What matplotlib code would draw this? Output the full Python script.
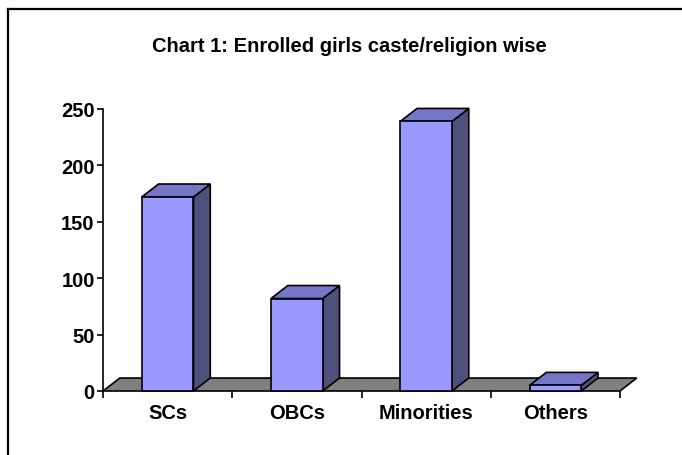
import matplotlib
matplotlib.use("Agg")
import matplotlib.pyplot as plt
from matplotlib.patches import Polygon
from matplotlib.lines import Line2D

categories = ["SCs", "OBCs", "Minorities", "Others"]
values = [172, 82, 239, 5]
y_ticks = [0, 50, 100, 150, 200, 250]
title = "Chart 1: Enrolled girls caste/religion wise"

plt.rcParams['font.family'] = ['Liberation Sans', 'DejaVu Sans']
plt.rcParams['font.weight'] = 'bold'

fig = plt.figure(figsize=(6.82, 4.56), dpi=100)
ax = fig.add_axes([103/682, 64/456, 517/682, 282/456])

FRONT = "#9999FF"
TOP = "#7676C6"
SIDE = "#50507F"
FLOOR = "#808080"
LW = 1.2
FS = 14.5
DX = 0.13     # depth offset in category units
DY = 11.5     # depth offset in value units
BW = 0.40

n = len(categories)
xs = list(range(n))

# floor
floor = Polygon([(-0.5, 0), (n - 0.5, 0), (n - 0.5 + DX, DY), (-0.5 + DX, DY)],
                closed=True, facecolor=FLOOR, edgecolor="black", lw=LW,
                clip_on=False, zorder=1)
ax.add_patch(floor)

bars = ax.bar(xs, values, width=BW, color=FRONT, edgecolor="black", lw=LW,
              zorder=3, clip_on=False)
for x, v in zip(xs, values):
    x0, x1 = x - BW / 2, x + BW / 2
    side = Polygon([(x1, 0), (x1 + DX, DY), (x1 + DX, v + DY), (x1, v)],
                   closed=True, facecolor=SIDE, edgecolor="black", lw=LW,
                   clip_on=False, zorder=2.5, joinstyle="miter")
    top = Polygon([(x0, v), (x0 + DX, v + DY), (x1 + DX, v + DY), (x1, v)],
                  closed=True, facecolor=TOP, edgecolor="black", lw=LW,
                  clip_on=False, zorder=2.5, joinstyle="miter")
    ax.add_patch(side)
    ax.add_patch(top)

ax.set_xlim(-0.5, n - 0.5)
ax.set_ylim(0, 250)
ax.set_yticks(y_ticks)
ax.set_yticklabels([str(t) for t in y_ticks], fontsize=FS, fontweight="bold")
ax.set_xticks(xs)
ax.set_xticklabels(categories, fontsize=FS, fontweight="bold")
ax.set_xticks([i - 0.5 for i in range(n + 1)], minor=True)
ax.tick_params(axis="x", which="major", length=0, pad=9)
ax.tick_params(axis="x", which="minor", length=5, width=LW, direction="out")
ax.tick_params(axis="y", which="major", length=4, width=LW, direction="out", pad=2)

for s in ["top", "right", "bottom"]:
    ax.spines[s].set_visible(False)
ax.spines["left"].set_linewidth(LW)
ax.patch.set_visible(False)

fig.text(0.512, 1 - 46/456, title, ha="center", va="center",
         fontsize=FS, fontweight="bold")

# chart area border (left and top edges visible)
fig.add_artist(Line2D([8/682, 8/682], [0, 1 - 10/456], transform=fig.transFigure,
                      color="black", lw=1.6))
fig.add_artist(Line2D([8/682, 1], [1 - 10/456, 1 - 10/456], transform=fig.transFigure,
                      color="black", lw=1.6))

fig.savefig("out.png", dpi=100)
